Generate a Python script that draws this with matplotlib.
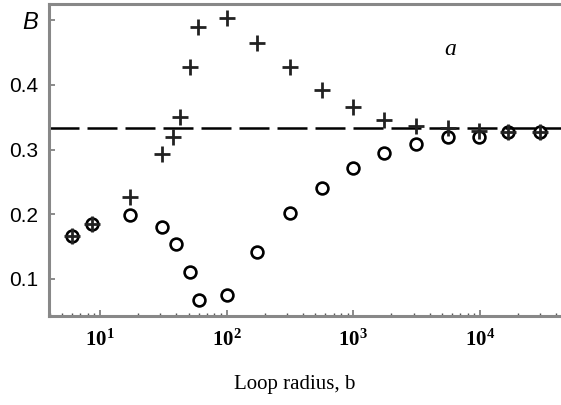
import numpy as np
import matplotlib
matplotlib.use("Agg")
import matplotlib.pyplot as plt
from matplotlib.ticker import LogLocator, NullFormatter

# --- data ---
b_plus = [6, 8.6, 17.2, 31, 38, 43, 51, 59, 100, 174, 315, 565,
          1000, 1750, 3150, 5600, 9800, 16700, 29600]
B_plus = [0.167, 0.185, 0.227, 0.293, 0.320, 0.351, 0.427, 0.489, 0.503,
          0.465, 0.427, 0.392, 0.366, 0.345, 0.337, 0.334, 0.328, 0.327, 0.327]

b_circ = [6, 8.6, 17.2, 30.7, 40, 51.5, 60, 100, 174, 315, 565,
          1000, 1750, 3150, 5600, 9800, 16700, 29600]
B_circ = [0.167, 0.185, 0.199, 0.180, 0.154, 0.111, 0.068, 0.075, 0.142,
          0.202, 0.241, 0.271, 0.294, 0.309, 0.320, 0.319, 0.327, 0.327]

B_limit = 1 / 3

ytick_vals = [0.1, 0.2, 0.3, 0.4, 0.5]
ytick_labels = ["0.1", "0.2", "0.3", "0.4", "B"]
xtick_vals = [10, 100, 1000, 10000]

plt.rcParams["mathtext.fontset"] = "custom"
plt.rcParams["mathtext.rm"] = "Liberation Serif"
plt.rcParams["mathtext.bf"] = "Liberation Serif:bold"

fig = plt.figure(figsize=(5.61, 4.05), dpi=100)
ax = fig.add_axes([0.0873, 0.2198, 0.9127, 0.7702])

ax.axhline(B_limit, color="black", lw=1.8, dashes=(12, 3.2), zorder=1)
ax.plot(b_circ, B_circ, "o", mfc="none", mec="black", ms=8.5, mew=1.9, zorder=2)
ax.plot(b_plus, B_plus, "+", color="#222222", ms=12, mew=2.0, zorder=3)

ax.set_xscale("log")
ax.set_xlim(3.95, 43600)
ax.set_ylim(0.0428, 0.525)

ax.set_xticks(xtick_vals)
ax.set_xticklabels([r"$\mathbf{10^{%d}}$" % int(np.log10(v)) for v in xtick_vals],
                   fontsize=15)
ax.xaxis.set_minor_locator(LogLocator(base=10, subs=np.arange(2, 10)))
ax.xaxis.set_minor_formatter(NullFormatter())

ax.set_yticks(ytick_vals)
ax.set_yticklabels(ytick_labels, family="Liberation Sans", fontsize=15)
lbl_B = ax.get_yticklabels()[-1]
lbl_B.set_style("italic")
lbl_B.set_fontsize(17)

ax.tick_params(axis="both", which="major", direction="in", length=4,
               width=1.2, color="#777777")
ax.tick_params(axis="y", pad=8)
ax.tick_params(axis="x", pad=9)
ax.tick_params(axis="x", which="minor", direction="in", length=2.5,
               width=1, color="#555555")

for side in ["left", "bottom", "top"]:
    ax.spines[side].set_color("#888888")
    ax.spines[side].set_linewidth(2.2)
ax.spines["right"].set_visible(False)

ax.text(0.783, 0.853, "a", transform=ax.transAxes, family="Liberation Serif",
        style="italic", fontsize=17, ha="center", va="center")

fig.text(0.526, 0.05, "Loop radius, b", family="Liberation Serif",
         fontsize=15, ha="center", va="center")

fig.savefig("out.png", dpi=100)
